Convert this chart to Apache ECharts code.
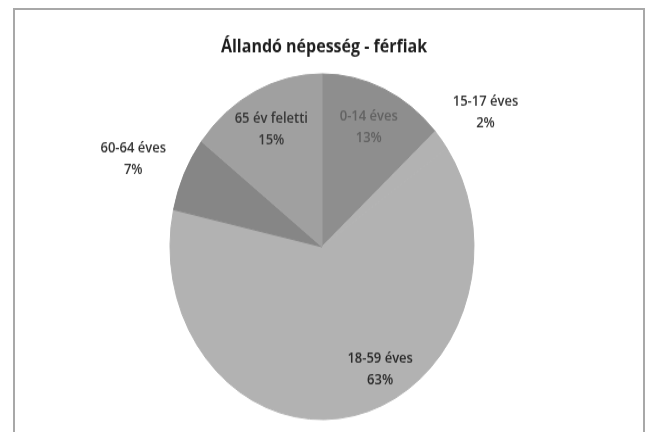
<!DOCTYPE html>
<html lang="hu">
<head>
    <meta charset="UTF-8">
    <title>Állandó népesség - férfiak</title>
    <script src="https://cdn.jsdelivr.net/npm/echarts@6/dist/echarts.min.js"></script>
    <style>
        html, body { margin: 0; padding: 0; background: #fff; overflow: hidden; }
        #frame { position: absolute; left: 13px; top: 8px; width: 628px; height: 440px; border: 2px solid #a8a8a8; }
        /* the scanned original is stretched vertically, so the chart is drawn at 648x380 and scaled */
        #main { position: absolute; left: 0; top: 0; width: 648px; height: 380px; transform: scaleY(1.137); transform-origin: 0 0; }
    </style>
</head>
<body style="width:648px;height:432px">
<div id="frame"></div>
<div id="main"></div>

<script type="text/javascript">
    // adatok
    var categories = ['0-14 éves', '15-17 éves', '18-59 éves', '60-64 éves', '65 év feletti'];
    var shares = [13.4, 2.0, 63.2, 7.0, 14.6];
    var sliceColors = ['#8e8e8e', '#b2b2b2', '#b2b2b2', '#868686', '#a0a0a0'];
    var innerLabels = ['0-14 éves', '18-59 éves', '65 év feletti'];   // felirat a szeleten belül
    var labelColors = {'0-14 éves': '#626262', '18-59 éves': '#2a2a2a', '65 év feletti': '#363636'};

    var myChart = echarts.init(document.getElementById('main'));

    var center = [322, 217];
    var R = 152;

    // a szelet körvonala a saját színe, így nem látszik varrat
    var pieData = categories.map(function (name, i) {
        return {
            name: name,
            value: shares[i],
            itemStyle: {color: sliceColors[i], borderColor: sliceColors[i], borderWidth: 1}
        };
    });

    // átlátszó segéd-kör csak a feliratokhoz
    function labelRing(showInner) {
        return categories.map(function (name, i) {
            var inner = innerLabels.indexOf(name) >= 0;
            return {
                name: name,
                value: shares[i],
                itemStyle: {color: 'rgba(0,0,0,0)'},
                label: {
                    show: inner === showInner,
                    color: inner ? labelColors[name] : '#333'
                }
            };
        });
    }

    var labelStyle = {
        position: 'inside',
        formatter: '{b}\n{d}%',
        fontFamily: 'Open Sans',
        fontSize: 13,
        fontWeight: 600,
        lineHeight: 19,
        align: 'center'
    };

    myChart.setOption({
        animation: false,
        title: {
            text: 'Állandó népesség - férfiak',
            left: 'center',
            top: 28,
            textStyle: {
                fontFamily: 'Open Sans',
                fontSize: 16,
                fontWeight: 'bold',
                color: '#1e1e1e'
            }
        },
        series: [{
            name: 'main',
            type: 'pie',
            center: center,
            radius: R,
            startAngle: 90,
            clockwise: true,
            silent: true,
            label: {show: false},
            labelLine: {show: false},
            data: pieData
        }, {
            name: 'inner labels',
            type: 'pie',
            center: center,
            radius: R * 1.47,
            startAngle: 90,
            silent: true,
            percentPrecision: 0,
            label: labelStyle,
            labelLine: {show: false},
            itemStyle: {borderWidth: 0},
            // Excel a nagy szelet feliratát kicsit jobbra tette
            labelLayout: function (p) {
                return p.dataIndex === 2 ? {dx: 36, dy: -5} : {};
            },
            data: labelRing(true)
        }, {
            name: 'outer labels',
            type: 'pie',
            center: [center[0], center[1] + 11],
            radius: R * 2.7,
            startAngle: 90,
            silent: true,
            percentPrecision: 0,
            label: labelStyle,
            labelLine: {show: false},
            itemStyle: {borderWidth: 0},
            data: labelRing(false)
        }]
    });
</script>
</body>
</html>
